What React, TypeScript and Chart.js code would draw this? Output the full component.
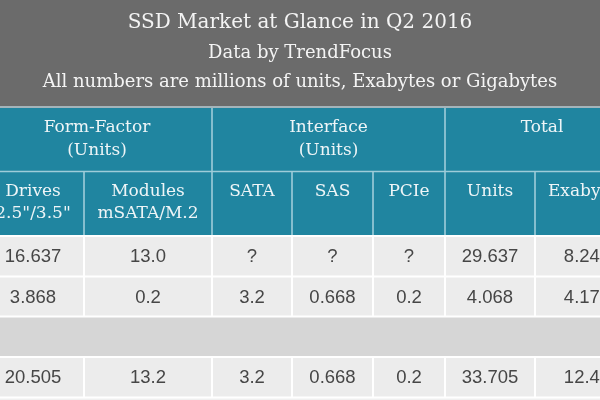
import React, { useEffect, useRef } from "react";
import { Chart, registerables } from "chart.js";
Chart.register(...registerables);

// ---- data ----
const titleLines = [
  "SSD Market at Glance in Q2 2016",
  "Data by TrendFocus",
  "All numbers are millions of units, Exabytes or Gigabytes",
];
const groupHeaders = [
  ["Form-Factor", "(Units)"],
  ["Interface", "(Units)"],
  ["Total"],
];
const columnHeaders = [
  ["Drives", '2.5"/3.5"'],
  ["Modules", "mSATA/M.2"],
  ["SATA"],
  ["SAS"],
  ["PCIe"],
  ["Units"],
  ["Exabytes"],
];
const drives = ["16.637", "3.868", "", "20.505"];
const modules = ["13.0", "0.2", "", "13.2"];
const sata = ["?", "3.2", "", "3.2"];
const sas = ["?", "0.668", "", "0.668"];
const pcie = ["?", "0.2", "", "0.2"];
const units = ["29.637", "4.068", "", "33.705"];
const exabytes = ["8.248", "4.172", "", "12.42"];

// ---- layout (style, not data) ----
const colEdges = [-18, 84, 212, 292, 373, 445, 535, 639];
const groupSpans = [[0, 2], [2, 5], [5, 7]];
const rowEdges = [236, 276.5, 316.5, 357, 397.5];
const blankRows = [2];
const SERIF = '"DejaVu Serif", serif';

export default function App() {
  const ref = useRef<HTMLCanvasElement>(null);
  useEffect(() => {
    const columns = [drives, modules, sata, sas, pcie, units, exabytes];
    const tablePlugin = {
      id: "table",
      beforeDatasetsDraw(chart: any) {
        const { ctx, scales } = chart;
        const X = (v: number) => scales.x.getPixelForValue(v);
        const Y = (v: number) => scales.y.getPixelForValue(v);
        ctx.save();
        // title band
        ctx.fillStyle = "#6b6b6b";
        ctx.fillRect(X(0), Y(0), X(600) - X(0), Y(106) - Y(0));
        ctx.fillStyle = "#a4b4ba";
        ctx.fillRect(X(0), Y(106), X(600) - X(0), Y(108) - Y(106));
        ctx.fillStyle = "#f4f4f4";
        ctx.textAlign = "center";
        ctx.textBaseline = "middle";
        const titleY = [23, 53, 82];
        const titleSizes = [20, 18, 18];
        titleLines.forEach((t, i) => {
          ctx.font = `${titleSizes[i]}px ${SERIF}`;
          ctx.fillText(t, X(300), Y(titleY[i]));
        });
        // header
        ctx.fillStyle = "#2085a0";
        ctx.fillRect(X(0), Y(108), X(600) - X(0), Y(236) - Y(108));
        ctx.strokeStyle = "rgba(200,228,236,0.75)";
        ctx.lineWidth = 1.6;
        ctx.beginPath();
        ctx.moveTo(X(0), Y(171.5));
        ctx.lineTo(X(600), Y(171.5));
        groupSpans.forEach(([a]) => {
          if (a > 0) {
            ctx.moveTo(X(colEdges[a]), Y(108));
            ctx.lineTo(X(colEdges[a]), Y(236));
          }
        });
        for (let c = 1; c < colEdges.length - 1; c++) {
          ctx.moveTo(X(colEdges[c]), Y(171.5));
          ctx.lineTo(X(colEdges[c]), Y(236));
        }
        ctx.stroke();
        ctx.fillStyle = "#eef5f7";
        ctx.font = `17px ${SERIF}`;
        groupHeaders.forEach((lines, g) => {
          const [a, b] = groupSpans[g];
          const cx = (colEdges[a] + colEdges[b]) / 2;
          lines.forEach((t, i) => ctx.fillText(t, X(cx), Y(128 + i * 23)));
        });
        columnHeaders.forEach((lines, c) => {
          const cx = (colEdges[c] + colEdges[c + 1]) / 2;
          lines.forEach((t, i) => ctx.fillText(t, X(cx), Y(192 + i * 22)));
        });
        // body
        for (let r = 0; r < rowEdges.length - 1; r++) {
          ctx.fillStyle = blankRows.includes(r) ? "#d6d6d6" : "#ececec";
          ctx.fillRect(X(0), Y(rowEdges[r]), X(600) - X(0), Y(rowEdges[r + 1]) - Y(rowEdges[r]));
        }
        ctx.fillStyle = "#f0f0f0";
        ctx.fillRect(X(0), Y(rowEdges[rowEdges.length - 1]), X(600) - X(0), Y(400) - Y(rowEdges[rowEdges.length - 1]));
        ctx.strokeStyle = "#ffffff";
        ctx.lineWidth = 2;
        ctx.beginPath();
        rowEdges.forEach((y) => {
          ctx.moveTo(X(0), Y(y));
          ctx.lineTo(X(600), Y(y));
        });
        for (let r = 0; r < rowEdges.length - 1; r++) {
          if (blankRows.includes(r)) continue;
          for (let c = 1; c < colEdges.length - 1; c++) {
            ctx.moveTo(X(colEdges[c]), Y(rowEdges[r]));
            ctx.lineTo(X(colEdges[c]), Y(rowEdges[r + 1]));
          }
        }
        ctx.stroke();
        ctx.fillStyle = "#464646";
        ctx.font = '18.5px "Liberation Sans", Arial, sans-serif';
        columns.forEach((col, c) => {
          const cx = (colEdges[c] + colEdges[c + 1]) / 2;
          col.forEach((v, r) => {
            if (!v) return;
            ctx.fillText(v, X(cx), Y((rowEdges[r] + rowEdges[r + 1]) / 2 + 1));
          });
        });
        ctx.restore();
      },
    };
    const chart = new Chart(ref.current!, {
      type: "scatter",
      data: { datasets: [{ data: [] }] },
      options: {
        animation: false,
        responsive: false,
        devicePixelRatio: 1,
        layout: { padding: 0 },
        plugins: { legend: { display: false }, tooltip: { enabled: false } },
        scales: {
          x: { type: "linear", min: 0, max: 600, display: false },
          y: { type: "linear", min: 0, max: 400, reverse: true, display: false },
        },
      },
      plugins: [tablePlugin],
    });
    return () => chart.destroy();
  }, []);
  return (
    <div style={{ position: "fixed", left: 0, top: 0, width: 600, height: 400 }}>
      <canvas ref={ref} width={600} height={400} />
    </div>
  );
}
